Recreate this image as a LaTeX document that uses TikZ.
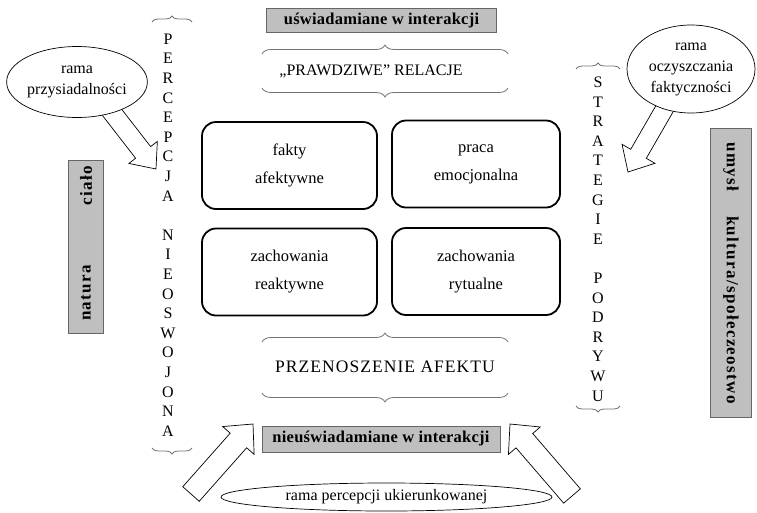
\documentclass[tikz,border=0pt]{standalone}
\usepackage{fontspec}
\setmainfont{Liberation Serif}
\newfontfamily\spacedserif[LetterSpace=8]{Liberation Serif}
\newfontfamily\labelserif[LetterSpace=1.5]{Liberation Serif}
\newfontfamily\wideserif[LetterSpace=6]{Liberation Serif}
\usetikzlibrary{calc,decorations.pathreplacing,shapes.geometric}

% hollow block arrow: tail, tip, shaft half width, head half width, head length
\newcommand\hollowarrow[5]{%
  \coordinate (hh) at ($(#2)!#5!(#1)$);
  \path[arrowline] ($(#1)!#3!90:(#2)$) -- ($(hh)!#3!90:(#2)$) -- ($(hh)!#4!90:(#2)$) -- (#2)
    -- ($(hh)!#4!-90:(#2)$) -- ($(hh)!#3!-90:(#2)$) -- ($(#1)!#3!-90:(#2)$) -- cycle;
}

\tikzset{
  every node/.style={font=\fontsize{16}{20}\selectfont},
  fact/.style={draw, line width=1.8pt, rounded corners=14pt, minimum width=175pt,
    minimum height=87pt, align=center, font=\fontsize{16.5}{28}\selectfont},
  graybox/.style={draw=black!60, fill=black!25, line width=0.8pt, inner sep=0pt},
  graytext/.style={font=\spacedserif\bfseries\fontsize{17}{20}\selectfont, inner sep=0pt},
  leveltext/.style={font=\labelserif\bfseries\fontsize{16.5}{20}\selectfont, inner sep=0pt},
  frame/.style={draw, ellipse, fill=white, line width=0.7pt, inner sep=0pt, align=center,
    font=\fontsize{16}{21}\selectfont},
  bracket/.style={draw=black!55, line width=0.8pt, decorate, decoration={brace, amplitude=#1}},
  arrowline/.style={draw, fill=white, line width=0.7pt, line join=miter},
  column/.style={align=center, font=\fontsize{16}{19.6}\selectfont, inner sep=0pt}
}

\begin{document}
\begin{tikzpicture}[x=1pt, y=-1pt]
\useasboundingbox (0,0) rectangle (757,512);

% awareness levels
\node[graybox, minimum width=230pt, minimum height=24pt] (aware) at (381.5,20.5) {};
\node[leveltext] at (aware) {uświadamiane w interakcji};
\node[graybox, minimum width=238pt, minimum height=26pt] (unaware) at (381,439) {};
\node[leveltext] at (unaware) {nieuświadamiane w interakcji};

% upper band
\draw[bracket=9pt] (262,54) -- (508,54);
\node (true) at (371,71) {„PRAWDZIWE” RELACJE};
\draw[bracket=9pt] (508,88) -- (262,88);

% the four fields
\node[fact] (facts)   at (289.5,165.5) {fakty\\afektywne};
\node[fact, minimum width=168pt] (work) at (476,164) {praca\\emocjonalna};
\node[fact] (react)   at (289.5,272) {zachowania\\reaktywne};
\node[fact, minimum width=168pt] (ritual) at (476,271.5) {zachowania\\rytualne};

% lower band
\draw[bracket=9pt] (262,342) -- (508,342);
\node[font=\wideserif\fontsize{17.5}{20}\selectfont] (transfer) at (385,367) {PRZENOSZENIE AFEKTU};
\draw[bracket=9pt] (508,393) -- (262,393);

% side columns
\draw[bracket=6pt] (152,22) -- (192,22);
\node[column] (percepcja) at (168,235)
  {P\\E\\R\\C\\E\\P\\C\\J\\A\\[19.6pt]N\\I\\E\\O\\S\\W\\O\\J\\O\\N\\A};
\draw[bracket=6pt] (192,448) -- (152,448);

\draw[bracket=6pt] (576,69) -- (620,69);
\node[column] (strategie) at (598,239)
  {S\\T\\R\\A\\T\\E\\G\\I\\E\\[19.6pt]P\\O\\D\\R\\Y\\W\\U};
\draw[bracket=6pt] (620,406) -- (576,406);

% body / nature and mind / culture
\node[graybox, minimum width=35pt, minimum height=173pt] (body) at (85.5,246.5) {};
\node[graytext, rotate=90] at (86,186) {ciało};
\node[graytext, rotate=90] at (86,293) {natura};
\node[graybox, minimum width=41pt, minimum height=289pt] (mind) at (730.5,272.5) {};
\node[graytext, rotate=-90] at (731,167) {umysł};
\node[graytext, rotate=-90] at (731,310) {kultura/społeczeostwo};

% arrows from the frames
\coordinate (ltail) at (104,102);  \coordinate (ltip) at (156,169);
\coordinate (rtail) at (673,94);   \coordinate (rtip) at (628,172);
\coordinate (bltail) at (191,494); \coordinate (bltip) at (253,424);
\coordinate (brtail) at (572,496); \coordinate (brtip) at (510,424);
\hollowarrow{ltail}{ltip}{9.5pt}{18pt}{21pt}
\hollowarrow{rtail}{rtip}{9pt}{19pt}{21pt}
\hollowarrow{bltail}{bltip}{11pt}{21pt}{22pt}
\hollowarrow{brtail}{brtip}{11pt}{21pt}{22pt}

% frames
\node[frame, minimum width=137pt, minimum height=71pt] (sitting) at (77,82) {rama\\przysiadalności};
\node[frame, minimum width=128pt, minimum height=88pt] (cleaning) at (691,69) {rama\\oczyszczania\\faktyczności};
\node[frame, minimum width=331pt, minimum height=28pt] (directed) at (386.5,497) {rama percepcji ukierunkowanej};
\end{tikzpicture}
\end{document}
